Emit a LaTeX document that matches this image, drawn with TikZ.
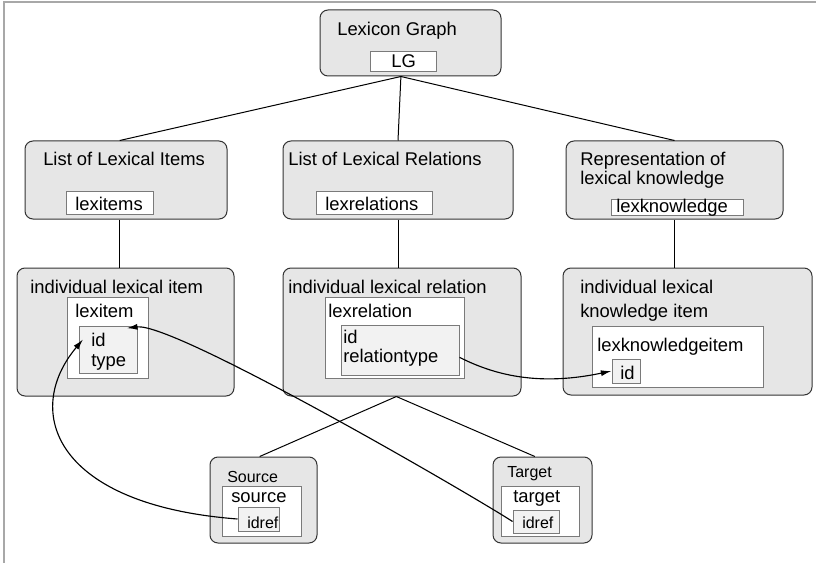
\documentclass[tikz,border=0pt]{standalone}
\usepackage{fontspec}
\setmainfont{Liberation Sans}
\usetikzlibrary{fit,arrows.meta}
\definecolor{panelfill}{HTML}{E6E6E6}
\definecolor{fieldfill}{HTML}{F2F2F2}
\definecolor{panelline}{HTML}{333333}
\definecolor{slotline}{HTML}{7A7A7A}
\definecolor{framegray}{HTML}{A8A8A8}
\begin{document}
\begin{tikzpicture}[x=0.75pt,y=-0.75pt,
  panel/.style={draw=panelline, fill=panelfill, line width=0.75pt, rounded corners=6pt, inner sep=0pt},
  slot/.style={draw=slotline, fill=white, line width=0.75pt, inner sep=0pt},
  field/.style={draw=slotline, fill=fieldfill, line width=0.75pt, inner sep=0pt},
  txt/.style={anchor=base west, inner sep=0pt, font=\fontsize{13.8}{16}\selectfont},
  tag/.style={anchor=base west, inner sep=0pt, font=\fontsize{12}{14}\selectfont},
  link/.style={draw=black, line width=0.75pt},
  xref/.style={draw=black, line width=0.85pt, -{Latex[length=8pt,width=4.5pt]}}]

\useasboundingbox (0,0) rectangle (816,563);

% page frame
\draw[framegray, line width=1.5pt] (4,563) -- (4,2) -- (816,2);

% root
\node[panel, fit={(320,10) (501,76)}] (lg) {};
\node[slot, fit={(370,52) (436,72)}] (lgs) {};
\node[txt] (lgt) at (337,36) {Lexicon Graph};
\node[txt] (lgn) at (391,67.5) {LG};

% lists
\node[panel, fit={(25,141) (227,219)}] (lli) {};
\node[slot, fit={(66,191) (153,214)}] (lis) {};
\node[txt] (llit) at (43,166) {List of Lexical Items};
\node[txt] (lisn) at (75,210) {lexitems};

\node[panel, fit={(283,141) (513,219)}] (llr) {};
\node[slot, fit={(316,191) (432,214)}] (lrs) {};
\node[txt] (llrt) at (288,166) {List of Lexical Relations};
\node[txt] (lrsn) at (325,210) {lexrelations};

\node[panel, fit={(566,141) (783,219)}] (rep) {};
\node[slot, fit={(611,199) (743,215)}] (lks) {};
\node[txt] (rept1) at (580,166) {Representation of};
\node[txt] (rept2) at (580,184) {lexical knowledge};
\node[txt] (lksn) at (616,212) {lexknowledge};

% individual items
\node[panel, fit={(17,268) (234,396)}] (ili) {};
\node[slot, fit={(67,297) (148,378)}] (lit) {};
\node[field, fit={(79,326) (137,373)}] (lig) {};
\node[txt] (ilit) at (30,293) {individual lexical item};
\node[txt] (litn) at (75,317) {lexitem};
\node[txt] (lid) at (91,346) {id};
\node[txt] (ltype) at (91,366) {type};

\node[panel, fit={(283,268) (521,396)}] (ilr) {};
\node[slot, fit={(325,297) (464,378)}] (lrl) {};
\node[field, fit={(341,325) (459,375)}] (lrg) {};
\node[txt] (ilrt) at (288,293) {individual lexical relation};
\node[txt] (lrln) at (328,317) {lexrelation};
\node[txt] (rid) at (343,343) {id};
\node[txt] (rtype) at (343,362) {relationtype};

\node[panel, fit={(563,268) (812,395)}] (ikn) {};
\node[slot, fit={(592,326) (763,387)}] (lki) {};
\node[field, fit={(612,359) (640,383)}] (kid) {};
\node[txt] (iknt1) at (580,293) {individual lexical};
\node[txt] (iknt2) at (580,317) {knowledge item};
\node[txt] (lkin) at (597,351) {lexknowledgeitem};
\node[txt] (kidn) at (620,379) {id};

% relation ends
\node[panel, fit={(210,457) (317,543)}] (src) {};
\node[slot, fit={(222,486) (301,536)}] (srcs) {};
\node[field, fit={(238,507) (279,531)}] (sidref) {};
\node[tag] (srct) at (227,482) {Source};
\node[txt] (srcn) at (231,502) {source};
\node[tag] (sidn) at (247,528) {idref};

\node[panel, fit={(493,457) (592,543)}] (tgt) {};
\node[slot, fit={(501,486) (579,536)}] (tgts) {};
\node[field, fit={(513,510) (559,533)}] (tidref) {};
\node[tag] (tgtt) at (507,477) {Target};
\node[txt] (tgtn) at (513,502) {target};
\node[tag] (tidn) at (522,528) {idref};

% tree links
\draw[link] (lg.254) -- (lli.99);
\draw[link] (lg.254) -- (llr.north);
\draw[link] (lg.254) -- (rep.north);
\draw[link] (lli.261) -- (lli.261 |- ili.north);
\draw[link] (llr.south) -- (llr.south |- ilr.north);
\draw[link] (rep.south) -- (rep.south |- ikn.north);
\draw[link] (ilr.265) -- (src.95);
\draw[link] (ilr.265) -- (tgt.100);

% references
\draw[xref] (sidref.west) .. controls (55,505) and (22,412) .. ([xshift=-6pt]lid.west);
\draw[xref] (tidref.west) .. controls (480,500) and (175,322) .. ([xshift=-8pt,yshift=-2pt]lig.north east);
\draw[xref] (lrg.-7) .. controls (500,378) and (545,385) .. (kid.west);
\end{tikzpicture}
\end{document}
